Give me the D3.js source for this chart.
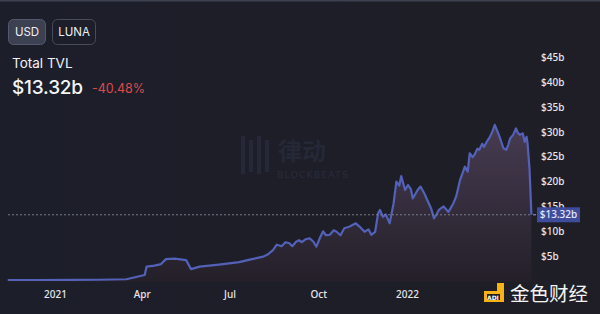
<!DOCTYPE html>
<html>
<head>
<meta charset="utf-8">
<script src="https://cdn.jsdelivr.net/npm/d3@7"></script>
<style>
  html, body { margin: 0; padding: 0; background: #1c1e29; }
  svg { display: block; }
</style>
</head>
<body>
<div id="chart"></div>
<script>
// TVL series (USD billions)
const dates = [
  '2020-11-13', '2020-12-15', '2021-01-20', '2021-02-16', '2021-03-16', '2021-04-04',
  '2021-04-06', '2021-04-14', '2021-04-21', '2021-04-26', '2021-05-05', '2021-05-17',
  '2021-05-22', '2021-05-31', '2021-06-20', '2021-07-11', '2021-07-22', '2021-08-05',
  '2021-08-10', '2021-08-15', '2021-08-19', '2021-08-24', '2021-08-28', '2021-09-01',
  '2021-09-04', '2021-09-08', '2021-09-11', '2021-09-14', '2021-09-18', '2021-09-22',
  '2021-09-26', '2021-09-29', '2021-10-03', '2021-10-06', '2021-10-09', '2021-10-13',
  '2021-10-17', '2021-10-20', '2021-10-24', '2021-10-28', '2021-11-02', '2021-11-06',
  '2021-11-09', '2021-11-13', '2021-11-18', '2021-11-22', '2021-11-25', '2021-11-29',
  '2021-12-02', '2021-12-04', '2021-12-07', '2021-12-10', '2021-12-14', '2021-12-18',
  '2021-12-21', '2021-12-24', '2021-12-26', '2021-12-30', '2022-01-02', '2022-01-05',
  '2022-01-07', '2022-01-12', '2022-01-15', '2022-01-19', '2022-01-22', '2022-01-26',
  '2022-01-29', '2022-02-01', '2022-02-03', '2022-02-08', '2022-02-13', '2022-02-18',
  '2022-02-21', '2022-02-25', '2022-03-02', '2022-03-05', '2022-03-07', '2022-03-10',
  '2022-03-12', '2022-03-15', '2022-03-17', '2022-03-20', '2022-03-22', '2022-03-25',
  '2022-03-28', '2022-03-31', '2022-04-02', '2022-04-05', '2022-04-07', '2022-04-11',
  '2022-04-14', '2022-04-16', '2022-04-18', '2022-04-21', '2022-04-24', '2022-04-26',
  '2022-04-28', '2022-05-01', '2022-05-03', '2022-05-05', '2022-05-06', '2022-05-08',
  '2022-05-10'
];
const tvl = [
  0.2, 0.2, 0.22, 0.25, 0.35, 1.2,
  2.9, 3.1, 3.4, 4.4, 4.5, 4.2,
  2.4, 2.9, 3.3, 3.8, 4.3, 4.9,
  5.4, 6.2, 7.3, 7.0, 7.8, 7.6,
  7.0, 7.9, 8.2, 7.8, 8.4, 8.6,
  7.9, 6.9, 8.8, 10.0, 9.2, 9.3,
  10.2, 9.9, 9.2, 10.6, 10.9, 11.3,
  11.6, 10.9, 9.9, 10.4, 9.3, 9.9,
  13.6, 14.3, 12.9, 13.4, 11.6, 15.5,
  20.0, 19.2, 21.1, 18.3, 19.3, 18.5,
  16.6, 18.3, 19.0, 17.6, 16.3, 14.6,
  12.6, 13.5, 14.3, 15.0, 13.9, 15.6,
  17.0, 20.3, 23.0, 22.0, 25.7, 24.9,
  25.4, 26.6, 26.4, 27.6, 27.0, 28.1,
  29.0, 30.3, 31.4, 30.0, 29.0, 26.7,
  26.4, 27.4, 28.7, 29.4, 30.7, 29.8,
  29.4, 29.7, 28.0, 29.0, 27.7, 22.7,
  13.32
];

const yTicks = [5, 10, 15, 20, 25, 30, 35, 40, 45];
const xTickDates = ['2021-01-01', '2021-04-01', '2021-07-01', '2021-10-01', '2022-01-01'];
const xTickLabels = ['2021', 'Apr', 'Jul', 'Oct', '2022'];

const currentValue = 13.32;
const currentLabel = '$13.32b';
const changeLabel = '-40.48%';

const width = 600, height = 314;
const parse = d3.utcParse('%Y-%m-%d');
const data = dates.map((d, i) => ({ date: parse(d), value: tvl[i] }));

const svg = d3.select('#chart').append('svg')
  .attr('width', width)
  .attr('height', height);

const defs = svg.append('defs');
const bgGrad = defs.append('linearGradient').attr('id', 'bg').attr('x1', 0).attr('x2', 1).attr('y1', 0).attr('y2', 0);
bgGrad.append('stop').attr('offset', 0).attr('stop-color', '#1c1e2a');
bgGrad.append('stop').attr('offset', 1).attr('stop-color', '#1f1e26');

const areaGrad = defs.append('linearGradient').attr('id', 'areaFill')
  .attr('gradientUnits', 'userSpaceOnUse')
  .attr('x1', 0).attr('x2', 0).attr('y1', 120).attr('y2', 285);
areaGrad.append('stop').attr('offset', 0).attr('stop-color', '#483c52');
areaGrad.append('stop').attr('offset', 1).attr('stop-color', '#231f28');

svg.append('rect').attr('width', width).attr('height', height).attr('fill', 'url(#bg)');
svg.append('rect').attr('x', 0).attr('y', 0).attr('width', width).attr('height', 1.5).attr('fill', '#3d4150');

// scales
const x = d3.scaleUtc()
  .domain([parse('2021-01-01'), parse('2022-01-01')])
  .range([55, 407]);
const y = d3.scaleLinear().domain([0, 45]).range([281, 57.3]);

// watermark
const wm = svg.append('g');
[0, 8, 16, 24].forEach((dx, i) => {
  wm.append('rect').attr('x', 241 + dx).attr('y', 136 + (i % 2) * 4)
    .attr('width', 4).attr('height', 38 - (i % 2) * 6).attr('fill', '#242838');
});
wm.append('text').attr('x', 278).attr('y', 160)
  .attr('font-family', 'Noto Sans CJK SC').attr('font-size', 24).attr('font-weight', 700)
  .attr('fill', '#242837').text('律动');
wm.append('text').attr('x', 277).attr('y', 178)
  .attr('font-family', 'DejaVu Sans').attr('font-size', 9.5).attr('letter-spacing', 1)
  .attr('fill', '#282c3c').text('BLOCKBEATS');

// area + line
const area = d3.area().x(d => x(d.date)).y0(282).y1(d => y(d.value));
const line = d3.line().x(d => x(d.date)).y(d => y(d.value));

svg.append('path').datum(data).attr('d', area).attr('fill', 'url(#areaFill)');
svg.append('path').datum(data).attr('d', line)
  .attr('fill', 'none').attr('stroke', '#5361b8').attr('stroke-width', 2.2)
  .attr('stroke-linejoin', 'round');

// current value dashed line
const lastX = x(data[data.length - 1].date);
svg.append('line')
  .attr('x1', 8).attr('x2', lastX)
  .attr('y1', y(currentValue)).attr('y2', y(currentValue))
  .attr('stroke', '#7a7d8c').attr('stroke-width', 1).attr('stroke-dasharray', '2,2');

// y axis
const yAxis = svg.append('g')
  .attr('transform', 'translate(534,0)')
  .call(d3.axisRight(y).tickValues(yTicks).tickSize(0).tickPadding(7).tickFormat(d => `$${d}b`));
yAxis.select('.domain').remove();
yAxis.selectAll('text')
  .attr('fill', '#e6e6ea').attr('font-family', 'Noto Sans').attr('font-size', 10).attr('font-weight', 500);

// price tag (covers the $15b label, as in the original)
const tag = svg.append('g').attr('transform', `translate(0,${y(currentValue)})`);
tag.append('line').attr('x1', 533).attr('x2', 536).attr('stroke', '#9aa3dd').attr('stroke-width', 1);
tag.append('rect').attr('x', 537).attr('y', -7.5).attr('width', 43).attr('height', 15).attr('fill', '#3f4c9c');
tag.append('text').attr('x', 558.5).attr('y', 0).attr('dy', '0.35em').attr('text-anchor', 'middle')
  .attr('fill', '#e4e7fb').attr('font-family', 'Noto Sans').attr('font-size', 10).attr('font-weight', 500)
  .text(currentLabel);

// x axis
const xAxis = svg.append('g')
  .attr('transform', 'translate(0,287)')
  .call(d3.axisBottom(x).tickValues(xTickDates.map(parse)).tickSize(0).tickPadding(4)
    .tickFormat((d, i) => xTickLabels[i]));
xAxis.select('.domain').remove();
xAxis.selectAll('text')
  .attr('fill', '#e6e6ea').attr('font-family', 'Noto Sans').attr('font-size', 10).attr('font-weight', 500);

// header buttons
const buttons = [
  { label: 'USD', x: 8, w: 37, active: true },
  { label: 'LUNA', x: 52, w: 43, active: false }
];
const btn = svg.selectAll('.btn').data(buttons).join('g').attr('class', 'btn');
btn.append('rect')
  .attr('x', d => d.x + 0.5).attr('y', 19.5).attr('width', d => d.w).attr('height', 25).attr('rx', 5)
  .attr('fill', d => d.active ? '#3c4051' : 'none')
  .attr('stroke', d => d.active ? '#535870' : '#474b5a');
btn.append('text')
  .attr('x', d => d.x + d.w / 2 + 0.5).attr('y', 32).attr('dy', '0.35em').attr('text-anchor', 'middle')
  .attr('fill', '#eceef4').attr('font-family', 'Inter').attr('font-size', 11.5)
  .text(d => d.label);

svg.append('text').attr('x', 12).attr('y', 68)
  .attr('fill', '#f2f2f5').attr('font-family', 'Inter').attr('font-size', 13.5)
  .text('Total TVL');
svg.append('text').attr('x', 12).attr('y', 94)
  .attr('fill', '#f5f5f7').attr('font-family', 'Inter').attr('font-size', 19).attr('font-weight', 500)
  .attr('letter-spacing', -0.2)
  .text(currentLabel);
svg.append('text').attr('x', 92).attr('y', 93)
  .attr('fill', '#dd4a4e').attr('font-family', 'Inter').attr('font-size', 12.5)
  .text(changeLabel);

// bottom-right logo
const logo = svg.append('g');
logo.append('rect').attr('x', 484).attr('y', 283).attr('width', 20).attr('height', 19).attr('fill', '#f5b316');
logo.append('rect').attr('x', 484).attr('y', 283).attr('width', 13).attr('height', 8).attr('fill', '#1f1e26');
logo.append('rect').attr('x', 487).attr('y', 294).attr('width', 13).attr('height', 6).attr('fill', '#1f1e26');
logo.append('text').attr('x', 487).attr('y', 299.5)
  .attr('fill', '#ffffff').attr('font-family', 'DejaVu Sans').attr('font-size', 6).attr('font-weight', 700)
  .text('ADI');
logo.append('text').attr('x', 510).attr('y', 301)
  .attr('fill', '#f4f4f4').attr('font-family', 'Noto Sans CJK SC').attr('font-size', 19.5)
  .text('金色财经');
</script>
</body>
</html>
